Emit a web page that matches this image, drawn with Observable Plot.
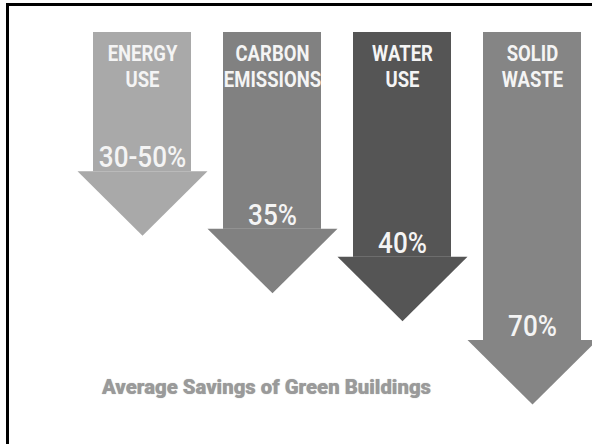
<!DOCTYPE html>
<html>
<head>
<meta charset="utf-8">
<script src="https://cdn.jsdelivr.net/npm/d3@7"></script>
<script src="https://cdn.jsdelivr.net/npm/@observablehq/plot@0.6"></script>
<style>
  html, body { margin: 0; padding: 0; background: #fff; overflow: hidden; }
  #wrap { position: relative; width: 592px; height: 444px; overflow: hidden; }
  #frame { position: absolute; left: 6px; top: 3px; right: -10px; bottom: -10px;
           border-top: 3px solid #000; border-left: 3px solid #000; }
  #chart { position: absolute; left: 0; top: 0; }
  #title { position: absolute; left: 102px; top: 375px; line-height: 24px; white-space: nowrap;
           font-family: Roboto, "DejaVu Sans", sans-serif; transform-origin: 0 50%;
           font-weight: 900; font-size: 21px; color: #9a9a9a; text-shadow: 0 0 1px #a8a8a8; }
</style>
</head>
<body>
<div id="wrap">
  <div id="frame"></div>
  <div id="chart"></div>
  <div id="title"></div>
</div>
<script>
// ---- data ----
const categories = ["ENERGY\nUSE", "CARBON\nEMISSIONS", "WATER\nUSE", "SOLID\nWASTE"];
const savingsLabels = ["30-50%", "35%", "40%", "70%"];
// depth of each arrow's shaft (arbitrary 0–100 units of the infographic's height)
const arrowDepth = [34.8, 49.2, 56.2, 77];
const fills = ["#a9a9a9", "#818181", "#555555", "#858585"];
const titleText = "Average Savings of Green Buildings";

const data = categories.map((c, i) => ({
  category: c,
  label: savingsLabels[i],
  depth: arrowDepth[i]
}));

// arrow head drawn as a custom symbol (down-pointing triangle)
const arrowHead = {
  draw(context) {
    context.moveTo(-65, -0.5);
    context.lineTo(65, -0.5);
    context.lineTo(0, 64);
    context.closePath();
  }
};

const font = 'Roboto, "DejaVu Sans", sans-serif';

const chart = Plot.plot({
  width: 592,
  height: 444,
  marginTop: 32,
  marginBottom: 12,
  marginLeft: 91,
  marginRight: 9,
  x: { type: "band", domain: categories, paddingInner: 0.244, paddingOuter: 0, axis: null },
  y: { domain: [0, 100], reverse: true, axis: null },
  color: { domain: categories, range: fills },
  style: { fontFamily: font, overflow: "visible" },
  marks: [
    Plot.barY(data, { x: "category", y1: 0, y2: "depth", fill: "category" }),
    Plot.dot(data, { x: "category", y: "depth", fill: "category", stroke: "none", symbol: arrowHead, r: 10 }),
    Plot.text(data, {
      x: "category", y: 0, text: "category", fill: "#f4f4f4",
      fontSize: 21.5, fontWeight: "bold", lineAnchor: "top", lineHeight: 1.2, dy: 10
    }),
    Plot.text(data, {
      x: "category", y: "depth", text: "label", fill: "#f4f4f4",
      fontSize: 29, fontWeight: 500, lineAnchor: "middle", dy: -14
    })
  ]
});
document.getElementById("chart").appendChild(chart);

// condense the glyphs horizontally (the original uses a condensed typeface)
const textGroups = chart.querySelectorAll('g[aria-label="text"]');
const condense = [0.86, 0.9];
textGroups.forEach((g, i) => {
  g.querySelectorAll("text").forEach(t => {
    const tr = t.getAttribute("transform") || "";
    t.setAttribute("transform", tr + ` scale(${condense[i]},1)`);
  });
});

const title = document.getElementById("title");
title.textContent = titleText;
const w = title.getBoundingClientRect().width;
title.style.transform = `scaleX(${329 / w})`;
</script>
</body>
</html>
